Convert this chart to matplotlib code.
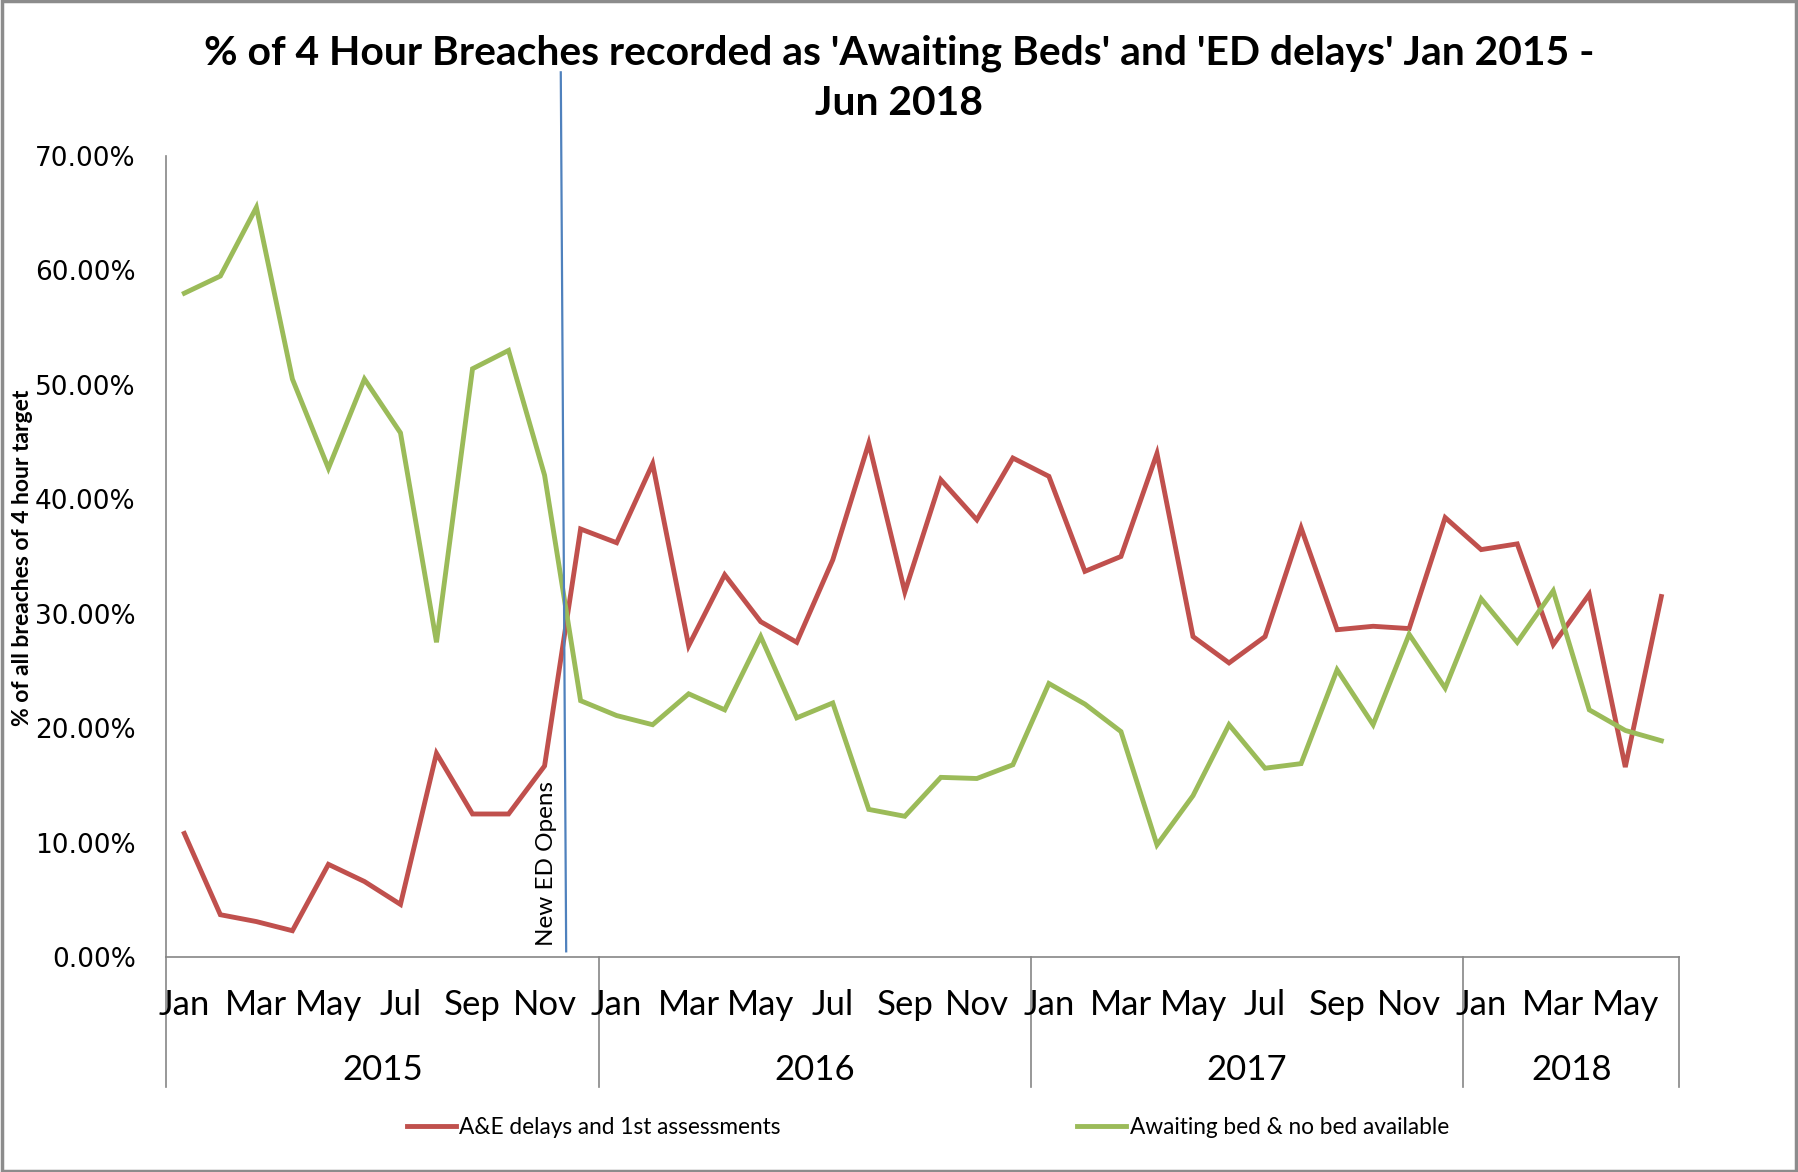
import matplotlib
matplotlib.use("Agg")
import matplotlib.pyplot as plt
from matplotlib.transforms import blended_transform_factory
from matplotlib.patches import Rectangle

# --- data (percent of all 4 hour breaches), Jan 2015 .. Jun 2018 ---
months = ["Jan", "Feb", "Mar", "Apr", "May", "Jun",
          "Jul", "Aug", "Sep", "Oct", "Nov", "Dec"]
years = ["2015", "2016", "2017", "2018"]
months_per_year = [12, 12, 12, 6]

ae_delays = [10.8, 3.7, 3.1, 2.3, 8.1, 6.6, 4.6, 17.8, 12.5, 12.5, 16.7, 37.4,
             36.2, 43.1, 27.2, 33.4, 29.3, 27.5, 34.7, 44.9, 31.9, 41.7, 38.2, 43.6,
             42.0, 33.7, 35.0, 44.0, 28.0, 25.7, 28.0, 37.5, 28.6, 28.9, 28.7, 38.4,
             35.6, 36.1, 27.3, 31.7, 16.6, 31.5]
awaiting_bed = [58.0, 59.5, 65.5, 50.5, 42.7, 50.5, 45.8, 27.5, 51.4, 53.0, 42.1, 22.4,
                21.1, 20.3, 23.0, 21.6, 28.0, 20.9, 22.2, 12.9, 12.3, 15.7, 15.6, 16.8,
                23.9, 22.1, 19.7, 9.8, 14.1, 20.3, 16.5, 16.9, 25.1, 20.3, 28.2, 23.5,
                31.3, 27.5, 32.0, 21.6, 19.8, 18.9]

series_names = ["A&E delays and 1st assessments", "Awaiting bed & no bed available"]
title = "% of 4 Hour Breaches recorded as 'Awaiting Beds' and 'ED delays' Jan 2015 -\nJun 2018"
ylabel = "% of all breaches of 4 hour target"
event_label = "New ED Opens"
# hand-drawn marker line in the original, slightly slanted
event_x = [10.45, 10.6]
event_y = [77.3, 0.5]

RED = "#C0504D"
GREEN = "#9BBB59"
BLUE = "#4F81BD"
GREY = "#868686"
FONT = "Lato"

fig = plt.figure(figsize=(17.98, 11.72), dpi=100)
ax = fig.add_axes([0.0925, 0.1834, 0.934 - 0.0925, 0.867 - 0.1834])

x = list(range(len(ae_delays)))
ax.plot(x, ae_delays, color=RED, lw=3.5, solid_joinstyle="miter")
ax.plot(x, awaiting_bed, color=GREEN, lw=3.5, solid_joinstyle="miter")
ax.plot(event_x, event_y, color=BLUE, lw=1.6, clip_on=False)
ax.text(event_x[1] - 0.55, 1.0, event_label, rotation=90, ha="center", va="bottom",
        fontsize=17.5, family=FONT)

ax.set_xlim(-0.5, len(x) - 0.5)
ax.set_ylim(0, 70)
ax.set_yticks(range(0, 71, 10))
ax.set_yticklabels([f"{v:.2f}%" for v in range(0, 71, 10)], fontsize=19,
                   family="DejaVu Sans")
ax.tick_params(axis="y", length=0, pad=22)
ax.set_xticks([])
for s in ["top", "right"]:
    ax.spines[s].set_visible(False)
for s in ["left", "bottom"]:
    ax.spines[s].set_color(GREY)
    ax.spines[s].set_linewidth(1.2)

# two-level category axis: months and years
tr = blended_transform_factory(ax.transData, ax.transAxes)
start = 0
bounds = [-0.5]
for yr, n in zip(years, months_per_year):
    for k in range(0, n, 2):
        ax.text(start + k, -0.06, months[k], transform=tr, ha="center", va="center",
                fontsize=25, family=FONT)
    ax.text(start + (n - 1) / 2, -0.141, yr, transform=tr, ha="center", va="center",
            fontsize=25, family=FONT)
    start += n
    bounds.append(start - 0.5)
for b in bounds:
    ax.plot([b, b], [0, -0.162], transform=tr, color=GREY, lw=1.2, clip_on=False)

fig.text(0.0125, 0.524, ylabel, rotation=90, ha="center", va="center",
         fontsize=16.5, fontweight="bold", family=FONT)
fig.text(0.5, 0.933, title, ha="center", va="center", fontsize=29.4,
         fontweight="bold", family=FONT, linespacing=1.42)

handles = [plt.Line2D([], [], color=RED, lw=3.5), plt.Line2D([], [], color=GREEN, lw=3.5)]
fig.legend(handles, series_names, loc="center", bbox_to_anchor=(0.516, 0.038), ncol=2,
           frameon=False, prop={"family": FONT, "size": 16.3}, handlelength=2.17,
           handletextpad=0.15, columnspacing=13.1)

fig.patches.append(Rectangle((0.001, 0.001), 0.998, 0.998, transform=fig.transFigure,
                             fill=False, edgecolor="#8C8C8C", lw=2.5))

fig.savefig("out.png", dpi=100)
